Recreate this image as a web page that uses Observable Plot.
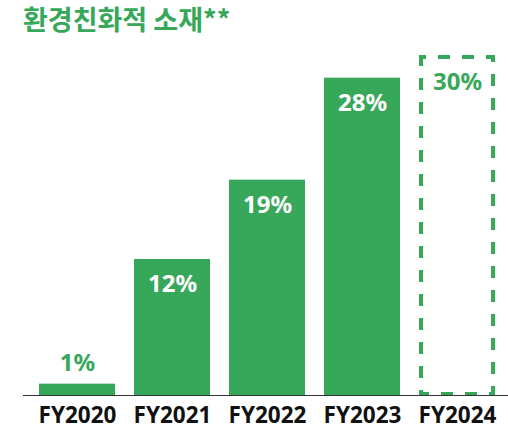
<!DOCTYPE html>
<html>
<head>
<meta charset="utf-8">
<script src="https://cdn.jsdelivr.net/npm/d3@7"></script>
<script src="https://cdn.jsdelivr.net/npm/@observablehq/plot@0.6"></script>
<style>
  html, body { margin: 0; padding: 0; background: #fff; }
  #wrap { position: relative; width: 508px; height: 430px; overflow: hidden; }
  #title { position: absolute; left: 23px; top: 2px; font-family: "Noto Sans CJK KR", "Noto Sans", sans-serif; font-weight: 700; font-size: 27px; color: #37a85a; line-height: 34px; white-space: nowrap; }
  #chart { position: absolute; left: 0; top: 0; }
</style>
</head>
<body>
<div id="wrap">
  <div id="chart"></div>
  <div id="title">환경친화적 소재**</div>
</div>
<script>
const years = ["FY2020", "FY2021", "FY2022", "FY2023", "FY2024"];
const values = [1, 12, 19, 28, 30];
const valueLabels = ["1%", "12%", "19%", "28%", "30%"];
const kinds = ["actual", "actual", "actual", "actual", "target"];

const green = "#37a85a";
const data = years.map((year, i) => ({ year, value: values[i], label: valueLabels[i], kind: kinds[i] }));
const actual = data.filter(d => d.kind === "actual");
const target = data.filter(d => d.kind === "target");
const inside = actual.filter(d => d.value >= 5);
const above = actual.filter(d => d.value < 5);
const latin = "Noto Sans";

const chart = Plot.plot({
  width: 508,
  height: 430,
  marginTop: 55,
  marginBottom: 35,
  marginLeft: 23,
  marginRight: 0,
  style: { fontFamily: latin, background: "white" },
  x: { domain: years, range: [28.5, 504.7], paddingInner: 0.2, paddingOuter: 0.1, label: null },
  y: { domain: [0, 30], axis: null },
  marks: [
    Plot.barY(actual, { x: "year", y: "value", fill: green }),
    Plot.barY(target, { x: "year", y: "value", fill: "none", stroke: green, strokeWidth: 4, strokeDasharray: "12 12", strokeDashoffset: 7, insetTop: 2, insetLeft: 2, insetRight: 2, insetBottom: 1 }),
    Plot.ruleY([0], { stroke: "#333", strokeWidth: 1.2 }),
    Plot.text(inside, { x: "year", y: "value", text: "label", fill: "white", fontSize: 24, fontWeight: 700, dy: 25, lineAnchor: "middle" }),
    Plot.text(above, { x: "year", y: "value", text: "label", fill: green, fontSize: 24, fontWeight: 700, dy: -21, lineAnchor: "middle" }),
    Plot.text(target, { x: "year", y: "value", text: "label", fill: green, fontSize: 24, fontWeight: 700, dy: 27, lineAnchor: "middle" }),
    Plot.axisX({ tickSize: 0, tickPadding: 12, fontSize: 22.5, fontWeight: 700, fill: "#111", label: null })
  ]
});
document.getElementById("chart").appendChild(chart);
</script>
</body>
</html>
